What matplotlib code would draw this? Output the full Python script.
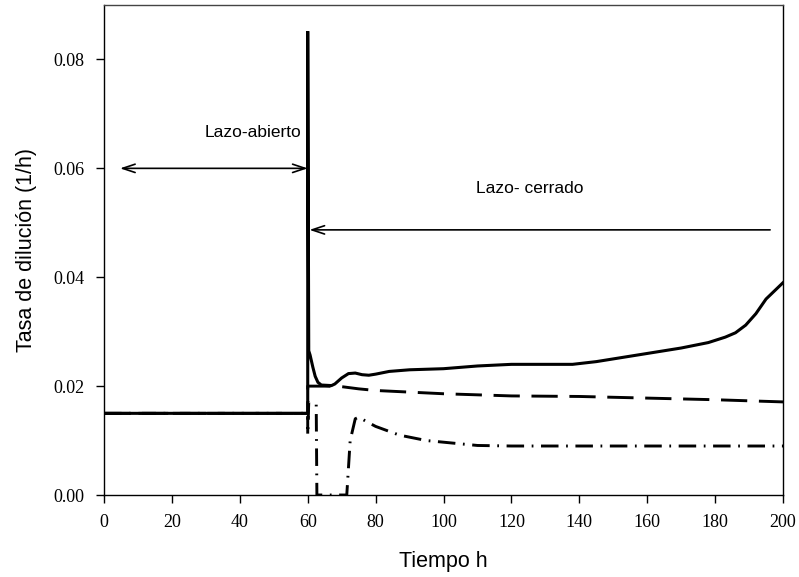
import matplotlib
matplotlib.use('Agg')
import matplotlib.pyplot as plt
from matplotlib.ticker import MultipleLocator, FormatStrFormatter

# curva continua
t_sol = [0, 60, 60, 60.3, 60.7, 61.5, 62.2, 63, 64, 67, 68, 70, 72, 74, 76, 78, 80,
         84, 90, 100, 110, 120, 130, 138, 145, 150, 160, 170, 178, 183, 186, 189, 192,
         195, 198, 200]
d_sol = [0.015, 0.015, 0.0852, 0.0265, 0.0257, 0.0235, 0.0218, 0.0207, 0.0202, 0.0201,
         0.0204, 0.0215, 0.0223, 0.0224, 0.0221, 0.0220, 0.0222, 0.0227, 0.0230, 0.0232,
         0.0237, 0.0240, 0.0240, 0.0240, 0.0245, 0.0250, 0.0260, 0.0270, 0.0280, 0.0290,
         0.0298, 0.0312, 0.0333, 0.0360, 0.0378, 0.0390]

# curva a trazos
t_das = [0, 60, 60, 65, 70, 75, 80, 90, 100, 110, 120, 140, 160, 180, 190, 200]
d_das = [0.015, 0.015, 0.0200, 0.0200, 0.0199, 0.0195, 0.0192, 0.0189, 0.0186, 0.0184,
         0.0182, 0.0181, 0.0178, 0.0175, 0.0173, 0.0171]

# curva trazo-punto
t_dd = [0, 60, 60, 60.3, 62.5, 62.7, 71.5, 72.5, 74, 75, 77, 80, 87, 95, 100, 110, 120, 200]
d_dd = [0.015, 0.015, 0.0110, 0.0170, 0.0166, 0.0, 0.0, 0.0100, 0.0140, 0.0143, 0.0136,
        0.0126, 0.0110, 0.0100, 0.0097, 0.0091, 0.0090, 0.0090]

fig = plt.figure(figsize=(7.99, 5.77), dpi=100)
ax = fig.add_axes([0.1302, 0.1421, 0.8498, 0.8492])

ax.plot(t_dd, d_dd, color='black', lw=2.1, dashes=(6, 2.6, 0.6, 2.6))
ax.plot(t_das, d_das, color='black', lw=2.1, dashes=(9, 4))
ax.plot(t_sol, d_sol, color='black', lw=2.2, solid_joinstyle='miter')

ax.set_xlim(0, 200)
ax.set_ylim(0, 0.09)
ax.xaxis.set_major_locator(MultipleLocator(20))
ax.yaxis.set_major_locator(MultipleLocator(0.02))
ax.yaxis.set_major_formatter(FormatStrFormatter('%.2f'))
ax.tick_params(direction='out', length=6, width=1, labelsize=13, pad=8)
for lab in ax.get_xticklabels() + ax.get_yticklabels():
    lab.set_family('Liberation Serif')
for s in ax.spines.values():
    s.set_linewidth(1.0)
ax.spines['top'].set_color('#444444')

ax.set_xlabel('Tiempo h', family='Liberation Sans', fontsize=15.5, labelpad=14)
ax.set_ylabel('Tasa de dilución (1/h)', family='Liberation Sans', fontsize=15.5, labelpad=12)

# flechas lazo abierto / cerrado
ax.annotate('', xy=(60, 0.060), xytext=(4.7, 0.060),
            arrowprops=dict(arrowstyle='<->,head_length=0.9,head_width=0.3', lw=1.2, color='black',
                            shrinkA=0, shrinkB=0))
ax.annotate('', xy=(60.5, 0.0487), xytext=(196.2, 0.0487),
            arrowprops=dict(arrowstyle='->,head_length=0.9,head_width=0.3', lw=1.2, color='black',
                            shrinkA=0, shrinkB=0))
ax.text(44, 0.0666, 'Lazo-abierto', family='Liberation Sans', fontsize=12.5, ha='center', va='center')
ax.text(125.5, 0.0563, 'Lazo- cerrado', family='Liberation Sans', fontsize=12.5, ha='center', va='center')

plt.savefig('out.png', dpi=100)
plt.close()
